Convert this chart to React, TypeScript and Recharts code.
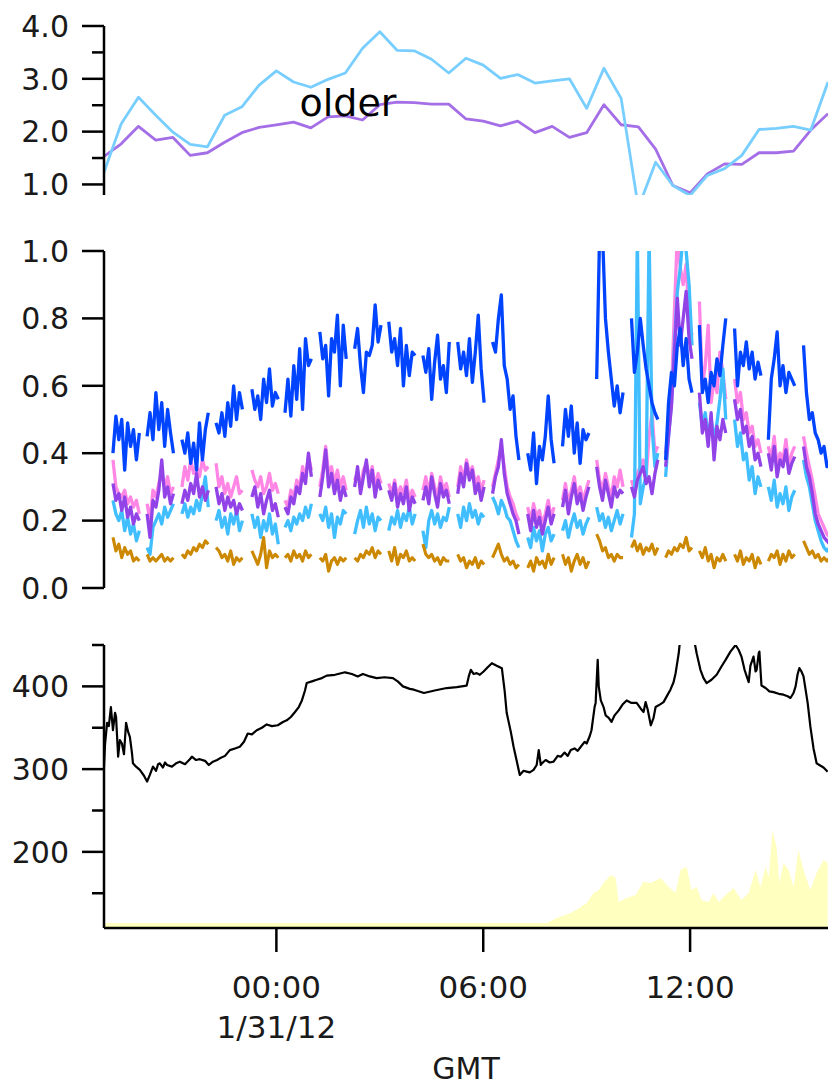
import { LineChart, ComposedChart, Line, Area, XAxis, YAxis } from 'recharts'

const FONT = '"DejaVu Sans", sans-serif'
const INK = '#1a1a1a'
const AXIS = { stroke: '#000', strokeWidth: 2.5 }

/* ── shared time axis: hours from 00:00 GMT, 1/31/12 ─────── */

const hourDomain: [number, number] = [-5, 16]
const xTicks = [0, 6, 12]
const xTickTime = ['00:00', '06:00', '12:00']
const xTickDate = ['1/31/12', '', '']

/* ── top panel: "older" ──────────────────────────────────── */

const topHours = [
  -5, -4.5, -4, -3.5, -3, -2.5, -2, -1.5, -1, -0.5, 0, 0.5, 1, 1.5, 2, 2.5, 3, 3.5, 4, 4.5, 5, 5.5,
  6, 6.5, 7, 7.5, 8, 8.5, 9, 9.5, 10, 10.5, 11, 11.5, 12, 12.5, 13, 13.5, 14, 14.5, 15, 15.5, 16,
]
const olderCyan = [
  1.23, 2.15, 2.65, 2.31, 1.99, 1.76, 1.71, 2.31, 2.47, 2.88, 3.15, 2.94, 2.84, 2.99, 3.11, 3.58,
  3.89, 3.54, 3.53, 3.37, 3.11, 3.39, 3.26, 3.01, 3.08, 2.92, 2.96, 3.0, 2.44, 3.2, 2.63, 0.56,
  1.42, 0.98, 0.79, 1.17, 1.3, 1.55, 2.04, 2.06, 2.1, 2.03, 2.94,
]
const olderViolet = [
  1.53, 1.77, 2.1, 1.84, 1.89, 1.55, 1.6, 1.8, 1.98, 2.08, 2.13, 2.18, 2.07, 2.28, 2.3, 2.22, 2.51,
  2.56, 2.55, 2.52, 2.52, 2.24, 2.2, 2.11, 2.2, 1.98, 2.1, 1.89, 1.98, 2.51, 2.13, 2.09, 1.67, 0.98,
  0.84, 1.2, 1.39, 1.38, 1.6, 1.6, 1.63, 2.03, 2.34,
]
const topTicks = [1, 1.5, 2, 2.5, 3, 3.5, 4]
const topMinor = [1.5, 2.5, 3.5]

/* ── middle panel: hourly measurement cycles ─────────────── */

const cycleStart = [
  -4.74, -3.75, -2.74, -1.75, -0.71, 0.25, 1.26, 2.27, 3.26, 4.25, 5.26, 6.27, 7.29, 8.3, 9.29,
  10.3, 11.29, 12.27, 13.29, 14.27, 15.29,
]
const SAMPLE_STEP = 0.085 // hours between readings inside a cycle

const blueCycles = [
  [0.4, 0.51, 0.44, 0.5, 0.35, 0.49, 0.42, 0.47, 0.38, 0.46],
  [0.45, 0.52, 0.44, 0.58, 0.47, 0.55, 0.42, 0.53, 0.46, 0.4],
  [0.44, 0.4, 0.46, 0.37, 0.43, 0.35, 0.49, 0.38, 0.47, 0.52],
  [0.49, 0.46, 0.52, 0.45, 0.55, 0.48, 0.6, 0.5, 0.58, 0.53],
  [0.59, 0.53, 0.57, 0.5, 0.62, 0.55, 0.65, 0.54, 0.58, 0.56],
  [0.52, 0.62, 0.51, 0.66, 0.56, 0.71, 0.53, 0.74, 0.66, 0.68],
  [0.76, 0.68, 0.72, 0.57, 0.74, 0.7, 0.81, 0.6, 0.78, 0.68],
  [0.71, 0.77, 0.66, 0.58, 0.7, 0.69, 0.72, 0.84, 0.73, 0.78],
  [0.79, 0.7, 0.74, 0.66, 0.77, 0.6, 0.72, 0.63, 0.7, 0.69],
  [0.69, 0.64, 0.71, 0.56, 0.67, 0.75, 0.62, 0.66, 0.58, 0.73],
  [0.73, 0.65, 0.7, 0.63, 0.74, 0.61, 0.7, 0.81, 0.65, 0.55],
  [0.73, 0.7, 0.8, 0.87, 0.66, 0.62, 0.53, 0.57, 0.45, 0.38],
  [0.4, 0.35, 0.46, 0.31, 0.42, 0.38, 0.45, 0.57, 0.44, 0.37],
  [0.42, 0.53, 0.45, 0.54, 0.4, 0.49, 0.37, 0.47, 0.44, 0.46],
  [0.62, 1.05, 1.05, 0.8, 0.7, 0.62, 0.54, 0.6, 0.52, 0.58],
  [0.8, 0.64, 0.7, 0.8, 0.72, 0.65, 0.6, 0.55, 0.52, 0.5],
  [0.38, 0.55, 0.64, 0.6, 0.72, 0.77, 0.66, 0.74, 0.62, 0.58],
  [0.78, 0.58, 0.62, 0.55, 0.64, 0.6, 0.68, 0.63, 0.72, 0.8],
  [0.77, 0.6, 0.7, 0.66, 0.73, 0.65, 0.7, 0.62, 0.67, 0.63],
  [0.44, 0.62, 0.68, 0.76, 0.6, 0.66, 0.58, 0.64, 0.62, 0.6],
  [0.72, 0.58, 0.5, 0.52, 0.46, 0.44, 0.4, 0.42, 0.36, 0.38],
]
const pinkCycles = [
  [0.38, 0.3, 0.28, 0.27, 0.29, 0.25, 0.27, 0.24, 0.26, 0.22],
  [0.25, 0.2, 0.29, 0.27, 0.31, 0.34, 0.3, 0.33, 0.28, 0.3],
  [0.3, 0.36, 0.32, 0.38, 0.34, 0.36, 0.33, 0.38, 0.35, 0.36],
  [0.37, 0.3, 0.33, 0.28, 0.31, 0.27, 0.3, 0.33, 0.28, 0.29],
  [0.35, 0.32, 0.3, 0.33, 0.28, 0.3, 0.34, 0.29, 0.31, 0.28],
  [0.26, 0.24, 0.29, 0.27, 0.32, 0.3, 0.36, 0.33, 0.39, 0.35],
  [0.3, 0.35, 0.42, 0.34, 0.36, 0.31, 0.35, 0.3, 0.33, 0.29],
  [0.32, 0.34, 0.3, 0.35, 0.37, 0.33, 0.36, 0.3, 0.34, 0.31],
  [0.31, 0.28, 0.32, 0.27, 0.3, 0.28, 0.32, 0.26, 0.29, 0.27],
  [0.29, 0.33, 0.28, 0.34, 0.3, 0.27, 0.33, 0.29, 0.31, 0.27],
  [0.3, 0.36, 0.32, 0.38, 0.34, 0.36, 0.31, 0.33, 0.29, 0.32],
  [0.3, 0.34, 0.38, 0.42, 0.36, 0.3, 0.27, 0.25, 0.22, 0.2],
  [0.24, 0.2, 0.25, 0.21, 0.23, 0.19, 0.22, 0.26, 0.21, 0.24],
  [0.26, 0.31, 0.25, 0.29, 0.33, 0.27, 0.3, 0.26, 0.29, 0.32],
  [0.38, 0.32, 0.29, 0.34, 0.3, 0.27, 0.33, 0.3, 0.35, 0.3],
  [0.32, 0.29, 0.34, 0.36, 0.38, 0.33, 0.45, 0.52, 0.4, 0.42],
  [0.4, 0.48, 0.58, 0.82, 1.05, 0.95, 0.9, 0.96, 0.8, 0.75],
  [0.85, 0.6, 0.66, 0.78, 0.55, 0.62, 0.58, 0.7, 0.64, 0.56],
  [0.62, 0.55, 0.58, 0.5, 0.52, 0.46, 0.48, 0.42, 0.44, 0.4],
  [0.42, 0.38, 0.45, 0.36, 0.4, 0.38, 0.44, 0.36, 0.4, 0.42],
  [0.45, 0.4, 0.36, 0.32, 0.27, 0.22, 0.2, 0.18, 0.16, 0.15],
]
const violetCycles = [
  [0.31, 0.26, 0.28, 0.23, 0.27, 0.21, 0.24, 0.19, 0.22, 0.2],
  [0.22, 0.15, 0.26, 0.24, 0.29, 0.38, 0.27, 0.3, 0.25, 0.28],
  [0.25, 0.29, 0.26, 0.31, 0.28, 0.34, 0.27, 0.3, 0.26, 0.29],
  [0.3, 0.25, 0.28, 0.23, 0.27, 0.24, 0.26, 0.22, 0.25, 0.23],
  [0.27, 0.3, 0.24, 0.28, 0.22, 0.26, 0.29, 0.23, 0.25, 0.21],
  [0.24, 0.22, 0.27, 0.25, 0.3, 0.28, 0.34, 0.31, 0.4, 0.33],
  [0.27, 0.33, 0.41, 0.3, 0.34, 0.28, 0.32, 0.26, 0.3, 0.27],
  [0.3, 0.36, 0.28, 0.33, 0.38, 0.3, 0.35, 0.27, 0.32, 0.29],
  [0.29, 0.26, 0.31, 0.24, 0.28, 0.25, 0.3, 0.23, 0.27, 0.25],
  [0.26, 0.3, 0.25, 0.33, 0.28, 0.24, 0.31, 0.27, 0.29, 0.25],
  [0.28, 0.34, 0.3, 0.37, 0.32, 0.35, 0.28, 0.31, 0.26, 0.3],
  [0.28, 0.33, 0.36, 0.44, 0.34, 0.28, 0.25, 0.22, 0.2, 0.16],
  [0.22, 0.17, 0.23, 0.18, 0.21, 0.16, 0.2, 0.24, 0.19, 0.22],
  [0.24, 0.29, 0.22, 0.27, 0.31, 0.25, 0.28, 0.23, 0.27, 0.3],
  [0.36, 0.3, 0.26, 0.32, 0.28, 0.24, 0.3, 0.27, 0.29, 0.28],
  [0.3, 0.27, 0.32, 0.34, 0.36, 0.31, 0.33, 0.28, 0.34, 0.38],
  [0.36, 0.45, 0.54, 0.7, 0.86, 0.72, 0.8, 0.88, 0.74, 0.68],
  [0.58, 0.46, 0.5, 0.42, 0.52, 0.38, 0.48, 0.44, 0.5, 0.46],
  [0.56, 0.5, 0.53, 0.46, 0.48, 0.42, 0.45, 0.38, 0.4, 0.36],
  [0.4, 0.35, 0.42, 0.33, 0.38, 0.36, 0.41, 0.34, 0.37, 0.39],
  [0.42, 0.36, 0.33, 0.28, 0.22, 0.19, 0.17, 0.15, 0.14, 0.13],
]
const cyanCycles = [
  [0.26, 0.22, 0.2, 0.23, 0.17, 0.21, 0.16, 0.19, 0.14, 0.17],
  [0.12, 0.1, 0.18, 0.2, 0.22, 0.19, 0.24, 0.21, 0.23, 0.25],
  [0.22, 0.25, 0.21, 0.24, 0.22, 0.26, 0.23, 0.28, 0.33, 0.24],
  [0.2, 0.23, 0.18, 0.21, 0.16, 0.22, 0.19, 0.23, 0.17, 0.2],
  [0.22, 0.18, 0.21, 0.15, 0.2, 0.17, 0.22, 0.16, 0.19, 0.13],
  [0.18, 0.2, 0.17, 0.21, 0.19, 0.22, 0.2, 0.24, 0.21, 0.25],
  [0.22, 0.2, 0.24, 0.18, 0.22, 0.15, 0.21, 0.19, 0.23, 0.22],
  [0.16, 0.2, 0.23, 0.18, 0.24, 0.19, 0.22, 0.17, 0.21, 0.2],
  [0.17, 0.21, 0.19, 0.23, 0.18, 0.22, 0.2, 0.24, 0.19, 0.22],
  [0.17, 0.12, 0.2, 0.23, 0.19, 0.22, 0.18, 0.21, 0.2, 0.24],
  [0.22, 0.18, 0.24, 0.2, 0.25, 0.21, 0.23, 0.19, 0.22, 0.21],
  [0.27, 0.25, 0.22, 0.26, 0.24, 0.21, 0.2, 0.17, 0.14, 0.12],
  [0.15, 0.12, 0.18, 0.14, 0.17, 0.11, 0.16, 0.18, 0.14, 0.16],
  [0.17, 0.2, 0.15, 0.19, 0.22, 0.18, 0.2, 0.16, 0.19, 0.21],
  [0.24, 0.2, 0.22, 0.18, 0.21, 0.17, 0.2, 0.23, 0.19, 0.22],
  [0.15, 0.22, 1.05, 0.25, 0.3, 0.33, 1.05, 0.48, 0.36, 0.4],
  [0.33, 0.45, 0.55, 0.72, 0.88, 0.95, 1.05, 1.0, 0.9, 0.72],
  [0.55, 0.48, 0.52, 0.45, 0.5, 0.44, 0.49, 0.56, 0.65, 0.5],
  [0.5, 0.42, 0.46, 0.38, 0.4, 0.32, 0.36, 0.28, 0.33, 0.3],
  [0.3, 0.26, 0.32, 0.24, 0.28, 0.25, 0.3, 0.23, 0.27, 0.29],
  [0.38, 0.33, 0.3, 0.25, 0.2, 0.17, 0.14, 0.12, 0.11, 0.12],
]
const amberCycles = [
  [0.15, 0.11, 0.13, 0.09, 0.12, 0.1, 0.11, 0.08, 0.09, 0.08],
  [0.1, 0.08, 0.09, 0.08, 0.09, 0.1, 0.08, 0.09, 0.08, 0.09],
  [0.1, 0.09, 0.11, 0.1, 0.12, 0.11, 0.13, 0.12, 0.14, 0.13],
  [0.12, 0.11, 0.09, 0.1, 0.08, 0.11, 0.07, 0.09, 0.08, 0.09],
  [0.11, 0.09, 0.07, 0.1, 0.15, 0.06, 0.11, 0.09, 0.1, 0.09],
  [0.09, 0.1, 0.08, 0.11, 0.09, 0.1, 0.08, 0.11, 0.09, 0.1],
  [0.09, 0.08, 0.1, 0.05, 0.08, 0.09, 0.07, 0.09, 0.08, 0.09],
  [0.09, 0.08, 0.1, 0.09, 0.11, 0.1, 0.12, 0.09, 0.11, 0.1],
  [0.11, 0.08, 0.12, 0.07, 0.1, 0.09, 0.11, 0.08, 0.09, 0.08],
  [0.13, 0.1, 0.09, 0.1, 0.08, 0.09, 0.07, 0.09, 0.08, 0.08],
  [0.1, 0.08, 0.09, 0.06, 0.08, 0.07, 0.09, 0.06, 0.08, 0.07],
  [0.09, 0.11, 0.13, 0.1, 0.08, 0.09, 0.07, 0.08, 0.06, 0.07],
  [0.06, 0.08, 0.05, 0.09, 0.07, 0.08, 0.06, 0.1, 0.07, 0.09],
  [0.1, 0.07, 0.09, 0.05, 0.08, 0.1, 0.07, 0.09, 0.06, 0.08],
  [0.16, 0.14, 0.11, 0.12, 0.09, 0.1, 0.08, 0.1, 0.09, 0.09],
  [0.12, 0.14, 0.11, 0.13, 0.1, 0.12, 0.11, 0.13, 0.1, 0.12],
  [0.09, 0.11, 0.1, 0.12, 0.11, 0.13, 0.12, 0.15, 0.11, 0.12],
  [0.11, 0.09, 0.12, 0.08, 0.1, 0.06, 0.09, 0.08, 0.1, 0.08],
  [0.1, 0.08, 0.11, 0.07, 0.09, 0.08, 0.1, 0.06, 0.09, 0.07],
  [0.08, 0.1, 0.09, 0.11, 0.07, 0.1, 0.08, 0.11, 0.09, 0.1],
  [0.14, 0.12, 0.1, 0.11, 0.09, 0.1, 0.08, 0.09, 0.08, 0.09],
]
const midTicks = [0, 0.2, 0.4, 0.6, 0.8, 1]

/* ── bottom panel ────────────────────────────────────────── */

const blackHours = [
  -5, -4.97, -4.91, -4.86, -4.8, -4.74, -4.68, -4.65, -4.59, -4.54, -4.48, -4.42, -4.36, -4.3, -4.25,
  -4.19, -4.16, -4.07, -3.96, -3.84, -3.75, -3.67, -3.58, -3.49, -3.43, -3.38, -3.29, -3.23, -3.17,
  -3.03, -2.91, -2.8, -2.65, -2.51, -2.45, -2.33, -2.22, -2.07, -1.96, -1.84, -1.72, -1.64, -1.49,
  -1.35, -1.2, -1.06, -0.94, -0.83, -0.71, -0.57, -0.42, -0.28, -0.13, 0.04, 0.19, 0.3, 0.42, 0.54,
  0.65, 0.74, 0.83, 0.88, 1.03, 1.17, 1.32, 1.46, 1.7, 1.99, 2.19, 2.36, 2.51, 2.71, 2.91, 3.14,
  3.38, 3.52, 3.67, 3.87, 3.99, 4.28, 4.59, 4.94, 5.23, 5.52, 5.58, 5.64, 5.72, 5.81, 5.9, 6.01,
  6.13, 6.25, 6.39, 6.54, 6.62, 6.68, 6.8, 6.88, 6.97, 7.06, 7.17, 7.26, 7.35, 7.46, 7.55, 7.61,
  7.67, 7.7, 7.81, 7.93, 8.04, 8.16, 8.25, 8.36, 8.45, 8.54, 8.65, 8.74, 8.83, 8.94, 9.0, 9.09,
  9.14, 9.23, 9.26, 9.32, 9.35, 9.41, 9.49, 9.55, 9.64, 9.72, 9.81, 9.93, 10.04, 10.16, 10.3, 10.45,
  10.57, 10.65, 10.71, 10.77, 10.86, 10.94, 11.0, 11.12, 11.23, 11.35, 11.43, 11.52, 11.58, 11.67,
  11.72, 12.1, 12.19, 12.3, 12.39, 12.48, 12.62, 12.77, 12.91, 13.03, 13.17, 13.32, 13.41, 13.49,
  13.58, 13.7, 13.75, 13.84, 13.9, 13.93, 13.99, 14.01, 14.07, 14.19, 14.3, 14.42, 14.57, 14.71,
  14.83, 14.91, 15.0, 15.06, 15.12, 15.17, 15.23, 15.29, 15.41, 15.49, 15.58, 15.67, 15.75, 15.87,
  15.99,
]
const blackValues = [
  303, 330, 356, 352, 375, 347, 368, 363, 315, 335, 331, 318, 356, 345, 339, 320, 307, 303, 299,
  292, 285, 293, 303, 298, 306, 307, 302, 308, 305, 303, 307, 309, 306, 312, 315, 311, 312, 310,
  305, 309, 311, 313, 316, 323, 325, 327, 333, 343, 342, 347, 350, 354, 352, 353, 357, 359, 363,
  369, 375, 383, 395, 404, 406, 408, 410, 413, 414, 417, 415, 412, 415, 412, 410, 411, 410, 406,
  400, 397, 396, 392, 395, 398, 399, 401, 412, 420, 415, 416, 414, 418, 423, 428, 425, 422, 395,
  368, 345, 327, 310, 293, 298, 297, 296, 299, 305, 323, 305, 307, 311, 308, 309, 316, 315, 320,
  316, 323, 325, 322, 327, 333, 331, 340, 347, 375, 380, 432, 400, 383, 375, 365, 362, 357, 365,
  371, 378, 383, 380, 380, 373, 369, 381, 372, 353, 362, 375, 378, 381, 390, 396, 405, 416, 440,
  460, 460, 440, 420, 410, 404, 408, 414, 424, 432, 442, 450, 444, 436, 420, 405, 425, 436, 418,
  420, 440, 442, 401, 398, 394, 393, 391, 390, 388, 386, 392, 400, 415, 422, 418, 412, 380, 351,
  325, 307, 305, 302, 297,
]
const fluxHours = [
  -5, 7.84, 8.13, 8.54, 8.83, 9.0, 9.2, 9.35, 9.49, 9.7, 9.84, 9.93, 10.16, 10.42, 10.65, 10.86,
  11.14, 11.38, 11.58, 11.72, 11.9, 12.04, 12.19, 12.33, 12.54, 12.68, 12.83, 13.03, 13.26, 13.49,
  13.7, 13.9, 14.04, 14.19, 14.28, 14.39, 14.51, 14.59, 14.71, 14.86, 15.0, 15.14, 15.29, 15.49,
  15.67, 15.87, 15.99,
]
const fluxValues = [
  1.8, 1.8, 3.5, 5.3, 7.4, 8.8, 12.4, 13.4, 15.9, 18.7, 17.7, 9.2, 10.6, 11.7, 16.3, 15.9, 17.7,
  14.5, 12.4, 20.5, 21.6, 13.4, 14.5, 9.9, 9.2, 12.4, 9.2, 11.7, 14.1, 9.9, 12.4, 20.5, 14.5, 21.6,
  18.0, 34.6, 28.6, 15.9, 23.0, 20.5, 14.5, 27.6, 20.5, 13.4, 19.4, 24.0, 23.0,
]
const lowTicks = [150, 200, 250, 300, 350, 400, 450]
const lowMinor = [150, 250, 350, 450]

/* ── tables for the charts ───────────────────────────────── */

const topRows = topHours.map((t, i) => ({ t, cyan: olderCyan[i], violet: olderViolet[i] }))

const midRows = cycleStart.flatMap((t0, k) => [
  ...blueCycles[k].map((_, i) => ({
    t: t0 + i * SAMPLE_STEP,
    blue: blueCycles[k][i],
    pink: pinkCycles[k][i],
    violet: violetCycles[k][i],
    cyan: cyanCycles[k][i],
    amber: amberCycles[k][i],
  })),
  { t: t0 + 0.86, blue: null, pink: null, violet: null, cyan: null, amber: null },
])

const blackRows = blackHours.map((t, i) => ({ t, v: blackValues[i] }))
const fluxRows = fluxHours.map((t, i) => ({ t, v: fluxValues[i] }))

/* ── ticks ───────────────────────────────────────────────── */

const TICK_SIZE = 22
const TICK_MARGIN = 13

function makeYTick(minor: number[], digits: number) {
  return (p: any) => {
    const v: number = p.payload.value
    const isMinor = minor.includes(v)
    const axisX = p.x + TICK_SIZE + TICK_MARGIN
    return (
      <g>
        <line
          x1={axisX - (isMinor ? 12 : TICK_SIZE)}
          x2={axisX}
          y1={p.y}
          y2={p.y}
          stroke="#000"
          strokeWidth={2.5}
        />
        {!isMinor && (
          <text x={p.x} y={p.y} dy="0.36em" textAnchor="end" fill={INK} fontSize={30} fontFamily={FONT}>
            {v.toFixed(digits)}
          </text>
        )}
      </g>
    )
  }
}

function renderXTick(p: any) {
  const i = xTicks.indexOf(p.payload.value)
  return (
    <text x={p.x} y={p.y} textAnchor="middle" fill={INK} fontSize={31} fontFamily={FONT}>
      <tspan x={p.x} dy={46}>
        {xTickTime[i]}
      </tspan>
      {xTickDate[i] ? (
        <tspan x={p.x} dy={40}>
          {xTickDate[i]}
        </tspan>
      ) : null}
    </text>
  )
}

const lineBase = {
  type: 'linear' as const,
  dot: false,
  isAnimationActive: false,
  strokeLinejoin: 'round' as const,
}

export default function App() {
  return (
    <div style={{ position: 'absolute', left: 0, top: 0, width: 828, height: 1087, background: '#fff', overflow: 'hidden' }}>
      {/* top panel */}
      <div style={{ position: 'absolute', left: 0, top: 0 }}>
        <LineChart width={828} height={212} data={topRows} margin={{ top: 26, right: 0, bottom: 17, left: 0 }}>
          <XAxis type="number" dataKey="t" domain={hourDomain} allowDataOverflow hide />
          <YAxis
            domain={[0.8, 4]}
            allowDataOverflow
            ticks={topTicks}
            interval={0}
            width={104}
            tickSize={TICK_SIZE}
            tickMargin={TICK_MARGIN}
            tickLine={false}
            axisLine={AXIS}
            tick={makeYTick(topMinor, 1)}
          />
          <Line {...lineBase} dataKey="violet" stroke="#A46EE6" strokeWidth={2.8} />
          <Line {...lineBase} dataKey="cyan" stroke="#78CEFF" strokeWidth={2.8} />
        </LineChart>
      </div>

      {/* middle panel */}
      <div style={{ position: 'absolute', left: 0, top: 205 }}>
        <LineChart width={828} height={410} data={midRows} margin={{ top: 46, right: 0, bottom: 27, left: 0 }}>
          <XAxis type="number" dataKey="t" domain={hourDomain} allowDataOverflow hide />
          <YAxis
            domain={[0, 1]}
            allowDataOverflow
            ticks={midTicks}
            interval={0}
            width={104}
            tickSize={TICK_SIZE}
            tickMargin={TICK_MARGIN}
            tickLine={false}
            axisLine={AXIS}
            tick={makeYTick([], 1)}
          />
          <Line {...lineBase} dataKey="pink" stroke="#FF86E4" strokeWidth={3.3} />
          <Line {...lineBase} dataKey="cyan" stroke="#40BEFF" strokeWidth={3.3} />
          <Line {...lineBase} dataKey="violet" stroke="#9143E8" strokeWidth={3.3} />
          <Line {...lineBase} dataKey="amber" stroke="#CC8800" strokeWidth={3.1} />
          <Line {...lineBase} dataKey="blue" stroke="#0044FF" strokeWidth={3.3} />
        </LineChart>
      </div>

      {/* bottom panel */}
      <div style={{ position: 'absolute', left: 0, top: 600 }}>
        <ComposedChart width={828} height={487} margin={{ top: 45, right: 0, bottom: 0, left: 0 }}>
          <XAxis
            type="number"
            dataKey="t"
            domain={hourDomain}
            allowDataOverflow
            ticks={xTicks}
            interval={0}
            height={159}
            tickSize={24}
            tickMargin={0}
            axisLine={AXIS}
            tickLine={AXIS}
            tick={renderXTick}
            label={{ value: 'GMT', position: 'insideBottom', offset: 8, fill: INK, fontSize: 30, fontFamily: FONT }}
          />
          <YAxis
            yAxisId="conc"
            domain={[108, 450]}
            allowDataOverflow
            ticks={lowTicks}
            interval={0}
            width={104}
            tickSize={TICK_SIZE}
            tickMargin={TICK_MARGIN}
            tickLine={false}
            axisLine={AXIS}
            tick={makeYTick(lowMinor, 0)}
          />
          <YAxis yAxisId="flux" domain={[0, 100]} allowDataOverflow hide />
          <Area
            yAxisId="flux"
            data={fluxRows}
            dataKey="v"
            type="linear"
            stroke="none"
            fill="#FFFFC0"
            fillOpacity={1}
            isAnimationActive={false}
          />
          <Line {...lineBase} yAxisId="conc" data={blackRows} dataKey="v" stroke="#000" strokeWidth={2.2} />
        </ComposedChart>
      </div>

      <svg width={828} height={1087} style={{ position: 'absolute', left: 0, top: 0, pointerEvents: 'none' }}>
        <text x={348} y={116} textAnchor="middle" fill="#000" fontSize={38} fontFamily={FONT}>
          older
        </text>
      </svg>
    </div>
  )
}
